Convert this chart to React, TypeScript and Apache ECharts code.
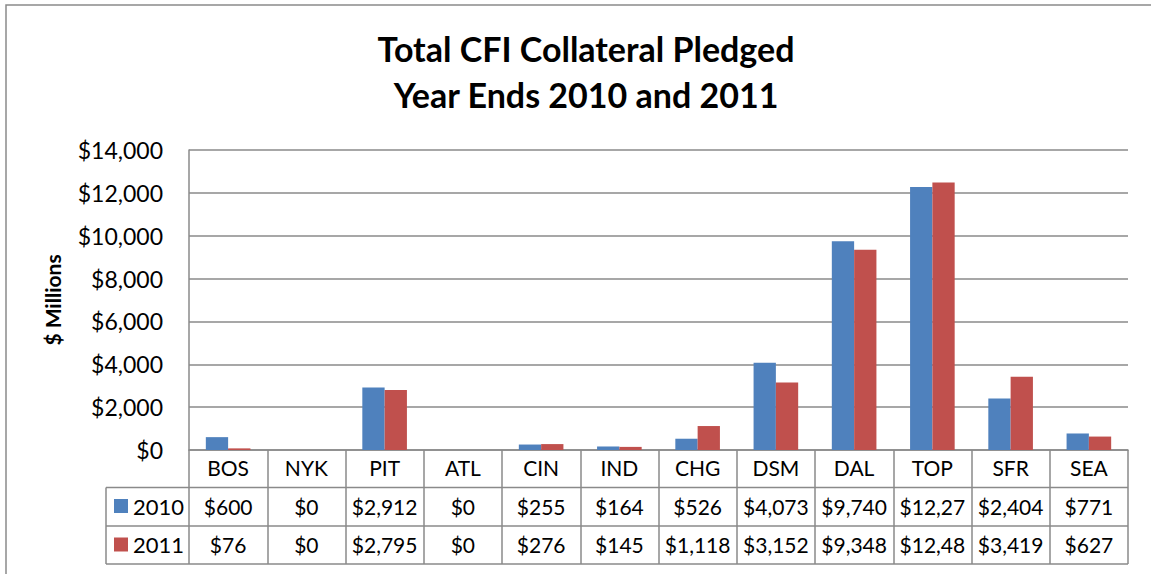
import React, { useEffect, useRef } from "react";
import * as echarts from "echarts";

const categories = ["BOS", "NYK", "PIT", "ATL", "CIN", "IND", "CHG", "DSM", "DAL", "TOP", "SFR", "SEA"];
const values2010 = [600, 0, 2912, 0, 255, 164, 526, 4073, 9740, 12275, 2404, 771];
const values2011 = [76, 0, 2795, 0, 276, 145, 1118, 3152, 9348, 12485, 3419, 627];
const seriesNames = ["2010", "2011"];
const yMin = 0;
const yMax = 14000;
const yInterval = 2000;
const titleLines = ["Total CFI Collateral Pledged", "Year Ends 2010 and 2011"];
const yAxisName = "$ Millions";

const FONT = "Lato";
const GRID_LINE = "#8a8a8a";
const fmt = (v: number) => "$" + v.toLocaleString("en-US");

export default function App() {
  const ref = useRef<HTMLDivElement>(null);
  useEffect(() => {
    document.body.style.margin = "0";
    const chart = echarts.init(ref.current!, null, { renderer: "svg" });
    const valueLabel = (vals: number[], offset: number) => ({
      type: "category" as const,
      data: categories,
      gridIndex: 0,
      position: "bottom" as const,
      offset,
      axisLine: { show: false },
      axisTick: { show: false },
      axisLabel: {
        interval: 0,
        margin: 7,
        fontSize: 21,
        fontFamily: FONT,
        color: "#000",
        width: 74,
        overflow: "truncate",
        ellipsis: "",
        formatter: (_v: string, i: number) => fmt(vals[i]),
      },
    });
    chart.setOption({
      animation: false,
      backgroundColor: "#fff",
      title: {
        text: titleLines.join("\n"),
        left: 581,
        textAlign: "center",
        top: 20,
        textStyle: { fontFamily: FONT, fontSize: 34, fontWeight: "bold", color: "#000", lineHeight: 46 },
      },
      legend: {
        data: seriesNames,
        orient: "vertical",
        left: 114,
        top: 494,
        padding: 0,
        itemWidth: 14,
        itemHeight: 14,
        itemGap: 14.5,
        icon: "rect",
        selectedMode: false,
        textStyle: { fontFamily: FONT, fontSize: 22, color: "#000", lineHeight: 24 },
      },
      grid: { left: 189, top: 150, width: 939, height: 300, outerBoundsMode: "none", containLabel: false },
      yAxis: {
        type: "value",
        min: yMin,
        max: yMax,
        interval: yInterval,
        name: yAxisName,
        nameLocation: "middle",
        nameRotate: 90,
        nameGap: 126,
        nameTextStyle: { fontFamily: FONT, fontSize: 21, fontWeight: "bold", color: "#000" },
        axisLine: { show: true, lineStyle: { color: GRID_LINE, width: 1.5 } },
        axisTick: { show: false },
        splitLine: { lineStyle: { color: GRID_LINE, width: 1.5 } },
        axisLabel: { fontFamily: FONT, fontSize: 23, color: "#000", margin: 26, formatter: (v: number) => fmt(v) },
      },
      xAxis: [
        {
          type: "category",
          data: categories,
          gridIndex: 0,
          position: "bottom",
          axisLine: { lineStyle: { color: GRID_LINE, width: 1.5 } },
          axisTick: { show: true, interval: 0, length: 114, lineStyle: { color: GRID_LINE, width: 1.5 } },
          axisLabel: { interval: 0, margin: 7, fontSize: 21, fontFamily: FONT, color: "#000" },
        },
        valueLabel(values2010, 38.5),
        valueLabel(values2011, 77),
      ],
      series: [
        {
          name: seriesNames[0],
          type: "bar",
          xAxisIndex: 0,
          data: values2010,
          barWidth: "28.5%",
          barGap: "0%",
          itemStyle: { color: "#4F81BD" },
        },
        {
          name: seriesNames[1],
          type: "bar",
          xAxisIndex: 0,
          data: values2011,
          barWidth: "28.5%",
          barGap: "0%",
          itemStyle: { color: "#C0504D" },
        },
      ],
      graphic: [
        {
          type: "rect",
          shape: { x: 6, y: 5, width: 1200, height: 700 },
          style: { fill: "none", stroke: GRID_LINE, lineWidth: 1.5 },
          silent: true,
        },
        { type: "line", shape: { x1: 106, y1: 487.5, x2: 1128, y2: 487.5 }, style: { stroke: GRID_LINE, lineWidth: 1.5 } },
        { type: "line", shape: { x1: 106, y1: 526, x2: 1128, y2: 526 }, style: { stroke: GRID_LINE, lineWidth: 1.5 } },
        { type: "line", shape: { x1: 106, y1: 564, x2: 1128, y2: 564 }, style: { stroke: GRID_LINE, lineWidth: 1.5 } },
        { type: "line", shape: { x1: 106, y1: 487.5, x2: 106, y2: 564 }, style: { stroke: GRID_LINE, lineWidth: 1.5 } },
      ],
    });
    return () => chart.dispose();
  }, []);
  return <div ref={ref} style={{ width: 1151, height: 574 }} />;
}
